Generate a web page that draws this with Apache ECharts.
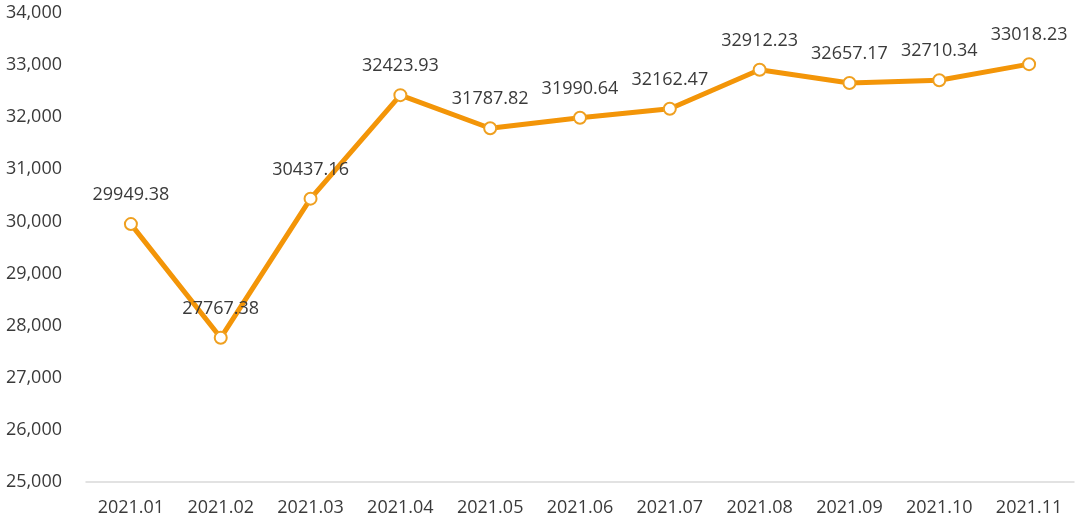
<!DOCTYPE html>
<html><head><meta charset="utf-8">
<script src="https://cdn.jsdelivr.net/npm/echarts@6/dist/echarts.min.js"></script>
<style>html,body{margin:0;padding:0;background:#fff}#c{width:1080px;height:522px}</style>
</head><body><div id="c"></div>
<script>
const categories = ['2021.01','2021.02','2021.03','2021.04','2021.05','2021.06','2021.07','2021.08','2021.09','2021.10','2021.11'];
const values = [29949.38, 27767.38, 30437.16, 32423.93, 31787.82, 31990.64, 32162.47, 32912.23, 32657.17, 32710.34, 33018.23];
const yMin = 25000, yMax = 34000, yStep = 1000;

const chart = echarts.init(document.getElementById('c'));
chart.setOption({
  animation: false,
  textStyle: {fontFamily: '"Open Sans", "Noto Sans", sans-serif'},
  grid: {left: 86, right: 6, top: 13, bottom: 40},
  xAxis: {
    type: 'category', data: categories, boundaryGap: true,
    axisLine: {lineStyle: {color: '#d9d9d9', width: 1.5}},
    axisTick: {show: false},
    axisLabel: {color: '#3a3a3a', fontSize: 18, margin: 17}
  },
  yAxis: {
    type: 'value', min: yMin, max: yMax, interval: yStep,
    axisLine: {show: false}, axisTick: {show: false},
    splitLine: {show: false},
    axisLabel: {color: '#3a3a3a', fontSize: 18, margin: 24,
      formatter: v => v.toLocaleString('en-US')}
  },
  series: [{
    type: 'line', data: values,
    lineStyle: {color: '#F39508', width: 5},
    itemStyle: {color: '#fff', borderColor: '#EFA020', borderWidth: 2},
    symbol: 'circle', symbolSize: 12,
    label: {show: true, position: 'top', distance: 13, color: '#3a3a3a', fontSize: 18,
      formatter: p => p.value.toFixed(2)}
  }]
});
</script></body></html>
